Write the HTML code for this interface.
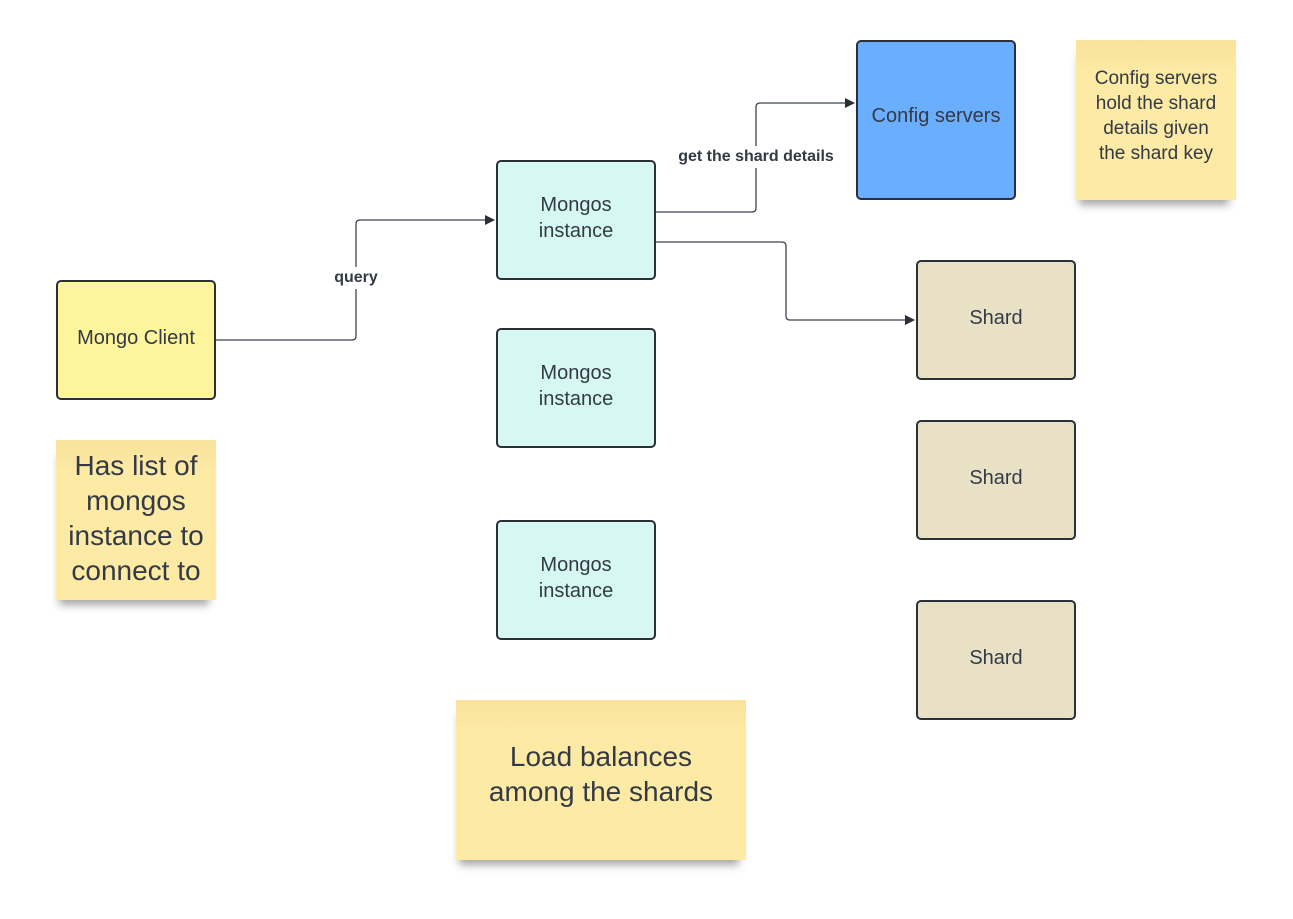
<!DOCTYPE html>
<html><head><style>
body{margin:0;width:1293px;height:919px;background:#fff;position:relative;overflow:hidden;font-family:"Liberation Sans",sans-serif;color:#333a45}
.b{position:absolute;box-sizing:border-box;border:2px solid #2a2f38;border-radius:5px;display:flex;align-items:center;justify-content:center;text-align:center;font-size:20px;line-height:26px}
.m{background:#d6f8f2}
.s{background:#e8e1c6}
.n{position:absolute;box-sizing:border-box;background:linear-gradient(#f9e29b,#fdeaa5 20%);display:flex;align-items:center;justify-content:center;text-align:center;box-shadow:-2px 10px 8px -5px rgba(0,0,0,.35)}
.l{position:absolute;background:#fff;font-weight:bold;font-size:16px;transform:translate(-50%,-50%);padding:2px 1px}
</style></head><body>
<svg width="1293" height="919" style="position:absolute;left:0;top:0">
<defs><marker id="a" markerWidth="10" markerHeight="10" refX="9" refY="5" orient="auto" markerUnits="userSpaceOnUse"><path d="M0,0L10,5L0,10z" fill="#2a2f38"/></marker></defs>
<g fill="none" stroke="#3d4350" stroke-width="1.3">
<path d="M216,340H352Q356,340 356,336V224Q356,220 360,220H494" marker-end="url(#a)"/>
<path d="M656,212H752Q756,212 756,208V107Q756,103 760,103H854" marker-end="url(#a)"/>
<path d="M656,242H782Q786,242 786,246V316Q786,320 790,320H914" marker-end="url(#a)"/>
</g></svg>
<div class="l" style="left:356px;top:278px">query</div>
<div class="l" style="left:756px;top:157px">get the shard details</div>
<div class="b" style="left:56px;top:280px;width:160px;height:120px;background:#fff59d;padding-bottom:4px">Mongo Client</div>
<div class="b m" style="left:496px;top:160px;width:160px;height:120px;padding-bottom:4px">Mongos<br>instance</div>
<div class="b m" style="left:496px;top:328px;width:160px;height:120px;padding-bottom:4px">Mongos<br>instance</div>
<div class="b m" style="left:496px;top:520px;width:160px;height:120px;padding-bottom:4px">Mongos<br>instance</div>
<div class="b" style="left:856px;top:40px;width:160px;height:160px;background:#6aaeff;padding-bottom:8px">Config servers</div>
<div class="b s" style="left:916px;top:260px;width:160px;height:120px;padding-bottom:4px">Shard</div>
<div class="b s" style="left:916px;top:420px;width:160px;height:120px;padding-bottom:4px">Shard</div>
<div class="b s" style="left:916px;top:600px;width:160px;height:120px;padding-bottom:4px">Shard</div>
<div class="n" style="left:1076px;top:40px;width:160px;height:160px;font-size:19px;line-height:25px;padding-bottom:8px">Config servers<br>hold the shard<br>details given<br>the shard key</div>
<div class="n" style="left:56px;top:440px;width:160px;height:160px;font-size:28px;line-height:35px;padding-bottom:4px">Has list of<br>mongos<br>instance to<br>connect to</div>
<div class="n" style="left:456px;top:700px;width:290px;height:160px;font-size:28px;line-height:35px;padding-bottom:12px">Load balances<br>among the shards</div>
</body></html>
